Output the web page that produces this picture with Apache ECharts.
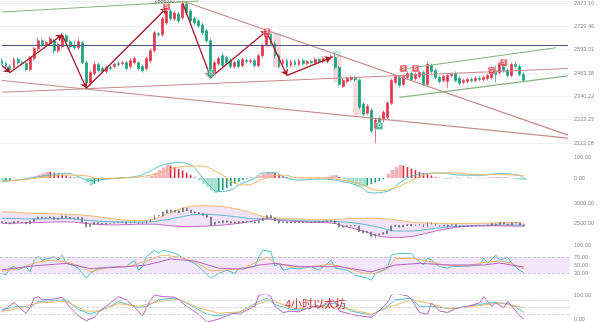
<!DOCTYPE html>
<html>
<head>
<meta charset="utf-8">
<title>4小时以太坊</title>
<script src="https://cdn.jsdelivr.net/npm/echarts@6/dist/echarts.min.js"></script>
<style>
  html, body { margin: 0; padding: 0; background: #ffffff; }
  #chart { width: 600px; height: 322px; }
</style>
</head>
<body>
<div id="chart"></div>
<script>
// ---- ETH 4h candles ----
const opens = [2531,2515,2499,2493,2537,2520,2515,2482,2543,2598,
2644,2621,2627,2644,2587,2610,2673,2639,2616,2604,
2633,2520,2413,2461,2510,2488,2472,2493,2499,2515,
2515,2520,2499,2520,2520,2499,2488,2531,2587,2685,
2679,2750,2823,2775,2805,2781,2867,2823,2775,2762,
2738,2703,2644,2466,2515,2559,2548,2531,2499,2531,
2504,2531,2526,2531,2504,2559,2621,2685,2627,2559,
2515,2531,2504,2526,2510,2531,2515,2526,2520,2537,
2526,2537,2548,2548,2493,2392,2418,2429,2439,2423,
2300,2255,2270,2182,2230,2221,2235,2305,2413,2439,
2402,2439,2461,2434,2445,2466,2402,2504,2477,2439,
2423,2418,2450,2461,2434,2413,2418,2429,2423,2434,
2429,2434,2439,2477,2466,2515,2477,2450,2510,2499,
2455];
const closes = [2515,2499,2482,2537,2520,2515,2482,2548,2598,2644,
2621,2633,2656,2587,2621,2673,2639,2610,2604,2639,
2520,2413,2466,2510,2477,2472,2493,2488,2510,2510,
2520,2488,2531,2543,2488,2477,2543,2587,2691,2679,
2775,2823,2775,2811,2762,2867,2811,2762,2750,2732,
2691,2644,2439,2520,2543,2504,2520,2499,2520,2499,
2537,2526,2531,2504,2559,2616,2679,2627,2559,2499,
2531,2499,2526,2510,2531,2515,2526,2520,2537,2526,
2543,2548,2554,2493,2402,2423,2434,2439,2429,2285,
2250,2290,2168,2221,2201,2260,2305,2423,2445,2397,
2445,2461,2429,2455,2466,2402,2510,2472,2439,2418,
2445,2450,2455,2423,2408,2423,2429,2423,2434,2429,
2439,2450,2488,2455,2515,2477,2450,2510,2499,2455,
2424.83];
const highs = [2543,2526,2510,2548,2548,2531,2526,2559,2610,2662,
2656,2644,2668,2656,2633,2691,2685,2650,2644,2656,
2644,2531,2477,2526,2520,2499,2504,2504,2520,2526,
2531,2531,2543,2554,2531,2510,2554,2598,2703,2697,
2787,2848,2836,2823,2817,2886,2879,2836,2787,2775,
2750,2715,2656,2531,2554,2576,2559,2543,2531,2543,
2548,2543,2543,2543,2570,2627,2703,2703,2639,2570,
2543,2543,2537,2537,2543,2543,2537,2537,2548,2548,
2554,2559,2565,2576,2504,2434,2445,2450,2450,2434,
2310,2300,2280,2230,2240,2270,2315,2434,2455,2450,
2455,2472,2472,2466,2477,2477,2526,2515,2488,2450,
2455,2461,2466,2472,2445,2434,2439,2439,2445,2445,
2450,2461,2499,2504,2526,2526,2488,2520,2526,2510,
2466];
const lows = [2504,2488,2472,2482,2510,2504,2472,2472,2531,2587,
2610,2610,2616,2570,2576,2598,2627,2598,2593,2593,
2510,2382,2397,2450,2466,2461,2461,2477,2488,2499,
2504,2477,2488,2510,2477,2466,2477,2520,2576,2668,
2668,2738,2762,2762,2750,2769,2799,2750,2738,2721,
2679,2633,2429,2455,2504,2493,2510,2488,2488,2488,
2493,2515,2515,2493,2493,2548,2610,2616,2543,2488,
2504,2488,2493,2499,2499,2504,2504,2510,2510,2515,
2515,2526,2537,2482,2392,2382,2408,2418,2418,2275,
2240,2245,2159,2111,2192,2211,2226,2295,2402,2387,
2392,2429,2418,2423,2434,2392,2392,2461,2429,2408,
2413,2382,2439,2413,2397,2402,2408,2413,2413,2418,
2418,2423,2429,2413,2455,2466,2439,2439,2488,2445,
2413];

// price axis tick labels (geometric steps)
const priceTickLabels = ['2112.08','2223.23','2340.22','2463.38','2593.01','2729.46','2873.10'];

// drawn studies: [slot index, price] endpoints
const rosyLines = [[[0,2423],[141,2135]], [[0,2361],[141,2488]], [[45,2886],[141,2149]]];
const greenLines = [[[0,2817],[49,2886]], [[99,2482],[138,2604]], [[99,2335],[141,2448]]];
const navyLevel = [[0,2621],[141,2621]];
const waveArrows = [[[0,2504],[2,2466]], [[2,2466],[15,2679]], [[15,2679],[21,2382]], [[21,2382],[41,2842]],
  [[45,2873],[52,2439]], [[52,2439],[66,2703]], [[66,2691],[71,2450]], [[71,2450],[82,2548]]];
// zones: [first slot, last slot, upper price, lower price]
const zoneBoxes = [[68,69,2673,2493],[83,84,2559,2413],[88,89,2418,2245]];
const zoneCaps = [[68,69,2691,2673],[83,84,2587,2559],[88,89,2434,2418]];
// signals
const sellMarks = [[41,2848],[66,2697],[100,2488],[103,2488],[122,2477],[125,2520]];
const buyMarks = [[52,2461],[94,2192]];
const highMark = [45, 2886];
const lowMark = [93, 2111];

// ---- MACD ----
const macdHist = [-19,-16,-12, 1,-1,1,0,1, 8,15,22,29, 28,25,21,17,12, 6,3,2,-2, -20,-35,-28,-18,
  2,-3,1,2,-1,2,3,-2,2,1,-2,3, 10,24,38,50,62, 58,52,44,36,25,14, 4, -12,-28,-42,-60,-71,
  -66,-58,-48,-38,-28,-18,-10, -4,2,5, 12,20,27,29, 24,17,10, 3,-2,1,3,-1,2,1,3,-2,4,6, 12,14, 5,
  -8,-18,-26,-33,-38,-41, -36,-30,-22,-14,-6, 20,38,52,62, 58,52,45,38,30,24,18,12,
  4,2,-3,-4,2,3,-2,1,3,-1,2,2,-2,3,4,5,3,4,2,-2, -6,-9,-10];
const macdDif = [[0,-14],[4,-10],[7,0],[12,14],[16,22],[19,6],[22,-13],[24,-10],[29,0],[33,6],[36,24],[39,54],
  [42,70],[44,73],[47,62],[49,24],[52,-41],[54,-65],[57,-57],[59,-33],[63,0],[65,24],[68,25],[70,6],[74,-10],
  [79,-5],[84,-14],[89,-40],[92,-71],[96,-63],[99,-24],[102,8],[106,21],[109,24],[114,14],[119,13],[124,21],
  [128,16],[130,0]];
const macdDea = [[0,-16],[4,-10],[9,0],[16,14],[21,10],[24,-3],[33,4],[39,22],[44,52],[49,57],[54,24],[58,-24],
  [61,-33],[65,-5],[70,14],[74,0],[79,0],[84,-8],[89,-27],[94,-59],[97,-52],[101,-21],[104,5],[107,21],[112,24],
  [119,16],[124,16],[130,11]];

// ---- price band panel ----
const bandIdx = [0,8,16,22,28,34,38,42,46,50,54,58,62,66,70,76,82,86,90,94,98,102,106,110,116,122,126,130];
const bandUpper = [2780,2740,2720,2680,2600,2560,2600,2760,2900,2930,2920,2860,2760,2640,2620,2590,2580,2610,2620,2615,2580,2520,2500,2490,2490,2500,2510,2505];
const bandMid = [2620,2600,2610,2560,2530,2520,2540,2600,2680,2720,2700,2660,2610,2600,2580,2550,2540,2520,2470,2390,2300,2300,2340,2390,2430,2445,2450,2448];
const bandLower = [2490,2510,2530,2480,2450,2470,2470,2430,2410,2420,2440,2480,2540,2600,2560,2520,2500,2400,2300,2170,2140,2160,2250,2340,2420,2430,2425,2420];

// ---- RSI ----
const rsi6 = [[0,29],[1,25],[2,42],[3,46],[4,38],[6,46],[7,33],[8,62],[9,71],[10,62],[12,67],[13,71],[14,62],[15,75],
  [16,54],[18,48],[19,42],[21,17],[22,29],[24,42],[26,44],[29,46],[31,46],[33,62],[34,37],[35,46],[36,71],[38,87],
  [39,79],[40,87],[42,83],[44,75],[45,67],[48,54],[50,37],[52,17],[54,29],[56,37],[58,29],[59,42],[63,46],[64,71],
  [65,87],[67,83],[68,48],[69,54],[70,37],[72,42],[74,40],[77,46],[79,37],[82,62],[83,42],[86,37],[88,25],[91,17],
  [92,12],[93,29],[96,42],[97,75],[99,79],[102,78],[103,67],[105,50],[106,67],[107,62],[109,46],[111,42],[112,46],
  [116,47],[119,50],[120,67],[121,54],[123,75],[124,62],[126,69],[127,54],[129,36],[130,31]];
const rsi12 = [[0,35],[4,40],[8,55],[12,62],[16,58],[20,45],[22,33],[26,43],[32,48],[36,60],[40,75],[44,70],[48,58],
  [52,35],[56,38],[60,41],[64,60],[66,70],[68,55],[72,45],[76,45],[82,52],[86,42],[90,30],[93,28],[96,40],[98,66],
  [102,67],[106,60],[110,50],[116,48],[120,56],[124,60],[127,54],[130,40]];
const rsi24 = [[0,38],[8,48],[16,54],[22,41],[30,45],[36,50],[42,65],[48,60],[54,42],[60,40],[64,50],[68,54],[74,46],
  [84,46],[92,33],[98,50],[104,54],[112,50],[120,50],[124,55],[130,45]];

// ---- KDJ ----
const kdjK = [[0,40],[4,53],[7,47],[9,73],[16,80],[19,40],[22,20],[27,53],[29,73],[34,47],[36,53],[39,80],[43,87],
  [46,67],[51,20],[54,13],[59,27],[64,73],[66,87],[68,60],[72,40],[74,37],[79,53],[83,67],[87,33],[92,16],[96,53],
  [98,80],[102,87],[104,53],[107,53],[112,43],[119,60],[122,69],[126,64],[129,40],[130,27]];
const kdjD = [[0,33],[4,43],[9,67],[16,73],[21,33],[24,33],[29,64],[34,53],[39,73],[44,83],[49,47],[54,24],[59,29],
  [64,64],[67,80],[71,53],[74,43],[81,53],[87,40],[92,20],[97,53],[102,80],[106,67],[111,43],[119,56],[124,67],[130,47]];
const kdjJ = [[0,33],[3,69],[4,53],[6,24],[7,47],[8,87],[9,93],[10,80],[13,83],[15,91],[17,47],[19,13],[21,-7],[23,7],
  [24,27],[27,67],[29,93],[31,80],[34,33],[35,13],[37,80],[38,100],[40,93],[43,91],[44,80],[46,53],[49,20],[51,-13],
  [54,0],[56,13],[58,24],[59,20],[63,53],[64,100],[66,104],[67,93],[68,53],[70,27],[72,33],[74,30],[77,53],[79,47],
  [82,80],[83,73],[84,33],[87,20],[89,13],[92,7],[93,20],[96,67],[97,100],[98,107],[101,96],[102,83],[104,27],
  [106,20],[107,67],[109,33],[111,27],[113,43],[116,53],[119,67],[120,93],[122,53],[123,67],[125,47],[126,73],
  [127,53],[129,13],[130,0]];

const macdShown = [0, 100];
const bandShown = [2500, 3000];
const rsiShown = [30, 50, 70, 100];
const kdjShown = [0, 100];

// ---------------------------------------------------------------
const SLOT_COUNT = 142;
const slots = Array.from({ length: SLOT_COUNT }, (_, i) => String(i));

// the price pane uses geometric spacing: one axis unit per tick step
const P_BASE = 2112.08, P_TOP = 2873.10;
const LOG_STEP = Math.log(P_TOP / P_BASE) / 6;
const toY = p => Math.log(p / P_BASE) / LOG_STEP;

const UP = '#e4364c', DOWN = '#14a27c';
const AXIS_FONT = { fontSize: 5.6, color: '#8a8a8a', fontFamily: 'Liberation Sans, Arial, sans-serif' };

const mainCandles = opens.map((o, i) => [toY(o), toY(closes[i]), toY(lows[i]), toY(highs[i])]);
const miniCandles = opens.map((o, i) => [o, closes[i], lows[i], highs[i]]);

const seg = (pair, style, arrow) => [
  { coord: [pair[0][0], toY(pair[0][1])], symbol: 'none' },
  { coord: [pair[1][0], toY(pair[1][1])], symbol: arrow ? 'arrow' : 'none', symbolSize: arrow ? 6 : 0, lineStyle: style }
];
const rosyStyle = { color: '#c58a8a', width: 1.1, type: 'solid' };
const greenStyle = { color: '#86b57e', width: 1.1, type: 'solid' };
const navyStyle = { color: '#50557a', width: 1.2, type: 'solid' };
const arrowStyle = { color: '#a31a27', width: 1.3, type: 'solid' };

const studyLines = [
  ...rosyLines.map(p => seg(p, rosyStyle, false)),
  ...greenLines.map(p => seg(p, greenStyle, false)),
  seg(navyLevel, navyStyle, false),
  ...waveArrows.map(p => seg(p, arrowStyle, true))
];
studyLines.forEach(s => { s[0].lineStyle = s[1].lineStyle; });

const lastClose = closes[closes.length - 1];

// MACD histogram: pale while expanding, solid while contracting
const histPale = [], histSolid = [];
macdHist.forEach((v, i) => {
  const prev = i > 0 ? macdHist[i - 1] : 0;
  const expanding = Math.abs(v) >= Math.abs(prev);
  const color = v >= 0 ? (expanding ? '#f4b3bb' : '#d52a40') : (expanding ? '#a6ded0' : '#129f79');
  if (expanding) { histPale.push({ value: v, itemStyle: { color } }); histSolid.push(null); }
  else { histSolid.push({ value: v, itemStyle: { color } }); histPale.push(null); }
});

const zoneRender = fill => (params, api) => {
  const a = api.coord([api.value(0), api.value(2)]);
  const b = api.coord([api.value(1), api.value(3)]);
  const half = api.size([1, 0])[0] / 2;
  return { type: 'rect', shape: { x: a[0] - half, y: a[1], width: b[0] - a[0] + 2 * half, height: b[1] - a[1] }, style: { fill } };
};

const labelFilter = shown => v => shown.indexOf(Math.round(v * 1000) / 1000) >= 0 ? v.toFixed(2) : '';

const xAxes = [0, 1, 2, 3, 4].map(g => ({
  type: 'category', gridIndex: g, data: slots, boundaryGap: true, show: false
}));

const baseY = {
  position: 'right', axisLine: { show: false }, axisTick: { show: false },
  splitLine: { show: false }
};

const option = {
  animation: false,
  backgroundColor: '#ffffff',
  title: {
    text: '4小时以太坊', left: 280, top: 293,
    textStyle: { fontSize: 11, color: '#c9343c', fontWeight: 'normal', fontFamily: 'Noto Sans CJK SC, sans-serif' }
  },
  grid: [
    { left: 0, right: 30, top: 0, height: 143 },
    { left: 0, right: 30, top: 149, height: 50 },
    { left: 0, right: 30, top: 198, height: 45 },
    { left: 0, right: 30, top: 245, height: 40 },
    { left: 0, right: 30, top: 295, height: 27.5 }
  ],
  xAxis: xAxes,
  yAxis: [
    Object.assign({}, baseY, {
      gridIndex: 0, type: 'value', min: 0, max: toY(2886), interval: 1,
      splitLine: { show: true, lineStyle: { color: '#f0f1f4', width: 1 } },
      axisLabel: Object.assign({ margin: 4, formatter: v => (Math.abs(v - Math.round(v)) < 1e-6 ? priceTickLabels[Math.round(v)] : '') }, AXIS_FONT)
    }),
    Object.assign({}, baseY, {
      gridIndex: 1, type: 'value', min: -100, max: 138, interval: 100,
      axisLabel: Object.assign({ margin: 4, formatter: labelFilter(macdShown) }, AXIS_FONT)
    }),
    Object.assign({}, baseY, {
      gridIndex: 2, type: 'value', min: 2000, max: 3125, interval: 500,
      axisLabel: Object.assign({ margin: 4, formatter: labelFilter(bandShown) }, AXIS_FONT)
    }),
    Object.assign({}, baseY, {
      gridIndex: 3, type: 'value', min: 0, max: 100, interval: 10,
      axisLabel: Object.assign({ margin: 4, formatter: labelFilter(rsiShown) }, AXIS_FONT)
    }),
    Object.assign({}, baseY, {
      gridIndex: 4, type: 'value', min: -10, max: 100, interval: 10,
      axisLabel: Object.assign({ margin: 4, formatter: labelFilter(kdjShown) }, AXIS_FONT)
    })
  ],
  series: [
    // supply / demand zones
    {
      type: 'custom', xAxisIndex: 0, yAxisIndex: 0, silent: true, z: 1,
      encode: { x: [0, 1], y: [2, 3] },
      data: zoneBoxes.map(b => [b[0], b[1], toY(b[2]), toY(b[3])]),
      renderItem: zoneRender('rgba(238,150,160,0.36)')
    },
    {
      type: 'custom', xAxisIndex: 0, yAxisIndex: 0, silent: true, z: 1,
      encode: { x: [0, 1], y: [2, 3] },
      data: zoneCaps.map(b => [b[0], b[1], toY(b[2]), toY(b[3])]),
      renderItem: zoneRender('rgba(130,210,175,0.4)')
    },
    {
      type: 'candlestick', xAxisIndex: 0, yAxisIndex: 0, z: 3,
      data: mainCandles, barWidth: 2.4,
      itemStyle: { color: UP, color0: DOWN, borderColor: UP, borderColor0: DOWN, borderWidth: 0.7 },
      markLine: {
        silent: true, animation: false, symbol: 'none',
        label: { show: false },
        data: studyLines.concat([{
          yAxis: toY(lastClose),
          lineStyle: { opacity: 0 },
          label: {
            show: true, position: 'end', distance: 0, formatter: lastClose.toFixed(2),
            backgroundColor: '#e23a4d', color: '#ffffff', padding: [1.5, 4.5, 1.5, 4.5],
            fontSize: 5.8, fontFamily: 'Liberation Sans, Arial, sans-serif'
          }
        }])
      }
    },
    {
      type: 'scatter', xAxisIndex: 0, yAxisIndex: 0, z: 5, silent: true,
      data: sellMarks.map(m => [m[0], toY(m[1])]),
      symbol: 'rect', symbolSize: 7,
      itemStyle: { color: '#e2404f', borderColor: '#ffffff', borderWidth: 0.5 },
      label: { show: true, position: 'inside', formatter: 'S', color: '#fff', fontSize: 5, fontWeight: 'bold' }
    },
    {
      type: 'scatter', xAxisIndex: 0, yAxisIndex: 0, z: 5, silent: true,
      data: buyMarks.map(m => [m[0], toY(m[1])]),
      symbol: 'rect', symbolSize: 7,
      itemStyle: { color: '#1fae86', borderColor: '#ffffff', borderWidth: 0.5 },
      label: { show: true, position: 'inside', formatter: 'B', color: '#fff', fontSize: 5, fontWeight: 'bold' }
    },
    {
      type: 'scatter', xAxisIndex: 0, yAxisIndex: 0, z: 5, silent: true, symbolSize: 0,
      data: [[lowMark[0], toY(lowMark[1])], [highMark[0], toY(highMark[1])]],
      label: {
        show: true, position: 'left', distance: 1,
        formatter: p => (p.dataIndex === 0 ? lowMark[1] : highMark[1]).toFixed(2) + ' \u2014',
        color: '#333', fontSize: 5.6, fontFamily: 'Liberation Sans, Arial, sans-serif'
      }
    },

    // MACD
    {
      type: 'bar', xAxisIndex: 1, yAxisIndex: 1, data: histPale, barWidth: 3.8, barGap: '-100%', silent: true
    },
    {
      type: 'bar', xAxisIndex: 1, yAxisIndex: 1, data: histSolid, barWidth: 1.6, barGap: '-100%', silent: true
    },
    {
      type: 'line', xAxisIndex: 1, yAxisIndex: 1, data: macdDif, smooth: true, showSymbol: false, silent: true,
      lineStyle: { color: '#58c0c6', width: 1 }
    },
    {
      type: 'line', xAxisIndex: 1, yAxisIndex: 1, data: macdDea, smooth: true, showSymbol: false, silent: true,
      lineStyle: { color: '#f0b561', width: 1 }
    },

    // price band panel
    {
      type: 'custom', xAxisIndex: 2, yAxisIndex: 2, silent: true, z: 1,
      data: [[0, bandMid[0]]],
      renderItem: (params, api) => {
        const pts = [];
        bandIdx.forEach((x, k) => pts.push(api.coord([x, bandUpper[k]])));
        for (let k = bandIdx.length - 1; k >= 0; k--) pts.push(api.coord([bandIdx[k], bandLower[k]]));
        return { type: 'polygon', shape: { points: pts, smooth: 0.35 }, style: { fill: '#f2e3f8' } };
      }
    },
    {
      type: 'candlestick', xAxisIndex: 2, yAxisIndex: 2, data: miniCandles, barWidth: 1.4, silent: true, z: 3,
      itemStyle: { color: '#666a73', color0: '#666a73', borderColor: '#666a73', borderColor0: '#666a73', borderWidth: 0.6 }
    },
    {
      type: 'line', xAxisIndex: 2, yAxisIndex: 2, data: bandIdx.map((x, k) => [x, bandUpper[k]]), smooth: 0.35,
      showSymbol: false, silent: true, lineStyle: { color: '#f1bb6e', width: 1 }
    },
    {
      type: 'line', xAxisIndex: 2, yAxisIndex: 2, data: bandIdx.map((x, k) => [x, bandMid[k]]), smooth: 0.35,
      showSymbol: false, silent: true, lineStyle: { color: '#62b8cc', width: 1 }
    },
    {
      type: 'line', xAxisIndex: 2, yAxisIndex: 2, data: bandIdx.map((x, k) => [x, bandLower[k]]), smooth: 0.35,
      showSymbol: false, silent: true, lineStyle: { color: '#c46ac4', width: 1 }
    },

    // RSI
    {
      type: 'line', xAxisIndex: 3, yAxisIndex: 3, data: rsi6, showSymbol: false, silent: true,
      lineStyle: { color: '#4fc2c4', width: 1 },
      markArea: { silent: true, itemStyle: { color: '#f3e6fa' }, data: [[{ yAxis: 30 }, { yAxis: 70 }]] },
      markLine: {
        silent: true, symbol: 'none', label: { show: false },
        lineStyle: { color: '#c6bccd', type: 'dashed', width: 0.8 },
        data: [{ yAxis: 30 }, { yAxis: 70 }]
      }
    },
    {
      type: 'line', xAxisIndex: 3, yAxisIndex: 3, data: rsi12, showSymbol: false, silent: true,
      lineStyle: { color: '#f2b66c', width: 1 }
    },
    {
      type: 'line', xAxisIndex: 3, yAxisIndex: 3, data: rsi24, showSymbol: false, silent: true,
      lineStyle: { color: '#b963c2', width: 1 }
    },

    // KDJ
    {
      type: 'line', xAxisIndex: 4, yAxisIndex: 4, data: kdjK, showSymbol: false, silent: true,
      lineStyle: { color: '#52c1c6', width: 1 },
      markLine: {
        silent: true, symbol: 'none', label: { show: false },
        lineStyle: { color: '#cfcfcf', type: 'dashed', width: 0.8 },
        data: [{ yAxis: 20 }, { yAxis: 50 }, { yAxis: 80 }]
      }
    },
    {
      type: 'line', xAxisIndex: 4, yAxisIndex: 4, data: kdjD, showSymbol: false, silent: true,
      lineStyle: { color: '#f0b868', width: 1 }
    },
    {
      type: 'line', xAxisIndex: 4, yAxisIndex: 4, data: kdjJ, showSymbol: false, silent: true,
      lineStyle: { color: '#b862c6', width: 1 }
    }
  ]
};

const chart = echarts.init(document.getElementById('chart'), null, { renderer: 'canvas' });
chart.setOption(option);
</script>
</body>
</html>
